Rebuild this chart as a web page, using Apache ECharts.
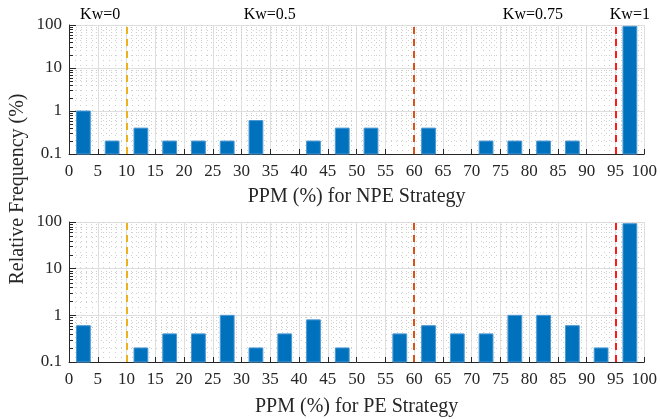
<!DOCTYPE html>
<html><head><meta charset="utf-8">
<script src="https://cdn.jsdelivr.net/npm/echarts@6/dist/echarts.min.js"></script>
<style>html,body{margin:0;padding:0;background:#fff}#c{width:660px;height:419px}</style>
</head><body><div id="c"></div>
<script>
// ---- data ----
const binCenters = [2.5, 7.5, 12.5, 17.5, 22.5, 27.5, 32.5, 37.5, 42.5, 47.5, 52.5, 57.5, 62.5, 67.5, 72.5, 77.5, 82.5, 87.5, 92.5, 97.5];
const npeValues = [1, 0.2, 0.4, 0.2, 0.2, 0.2, 0.6, 0, 0.2, 0.4, 0.4, 0, 0.4, 0, 0.2, 0.2, 0.2, 0.2, 0, 93];
const peValues  = [0.6, 0, 0.2, 0.4, 0.4, 1.0, 0.2, 0.4, 0.8, 0.2, 0, 0.4, 0.6, 0.4, 0.4, 1.0, 1.0, 0.6, 0.2, 92];
const kwLinePositions = [10, 60, 95];
const kwLineColors = ['#EDB120', '#D95319', '#FF1A1A'];
const kwLabels = ['Kw=0', 'Kw=0.5', 'Kw=0.75', 'Kw=1'];
const kwLabelX = [5.4, 34.8, 80.4, 97.2];
const minorYTicks = [0.2,0.3,0.4,0.5,0.6,0.7,0.8,0.9,2,3,4,5,6,7,8,9,20,30,40,50,60,70,80,90];
const xTitles = ['PPM (%) for NPE Strategy', 'PPM (%) for PE Strategy'];
const yTitle = 'Relative Frequency (%)';

const FONT = 'Liberation Serif';
const TXT = '#262626';
const BAR_HALF = 1.2;
const MINOR_COLOR = '#cfcfcf';
const MINOR_DASH = [1, 4];

const chart = echarts.init(document.getElementById('c'), null, {renderer: 'canvas'});

function renderBar(params, api) {
  const x = api.value(0), v = api.value(1);
  if (!(v > 0)) return null;
  const pTop = api.coord([x - BAR_HALF, v]);
  const pBot = api.coord([x + BAR_HALF, 0.1]);
  return {
    type: 'rect',
    shape: {x: pTop[0], y: pTop[1], width: pBot[0] - pTop[0], height: pBot[1] - pTop[1]},
    style: {fill: '#0072BD', stroke: '#4C98D3', lineWidth: 1}
  };
}
function renderMinor(params, api) {
  const v = api.value(1);
  const pt = api.coord([0, v]);
  const cs = params.coordSys;
  const y = Math.round(pt[1]) + 0.5;
  return {
    type: 'group',
    children: [
      {type: 'line', shape: {x1: cs.x + 2, y1: y, x2: cs.x + cs.width, y2: y},
       style: {stroke: MINOR_COLOR, lineWidth: 1, lineDash: MINOR_DASH}, z2: 0},
      {type: 'line', shape: {x1: cs.x, y1: y, x2: cs.x + 4, y2: y},
       style: {stroke: TXT, lineWidth: 1}, z2: 1}
    ]
  };
}

const grids = [
  {left: 69, top: 25, width: 577, height: 129},
  {left: 69, top: 222, width: 577, height: 140}
];

function xAxisCfg(i, gap) {
  return {
    gridIndex: i, type: 'value', min: 0, max: 100, interval: 5,
    axisLine: {show: true, onZero: false, lineStyle: {color: TXT, width: 1}},
    axisTick: {show: true, inside: true, length: 5, lineStyle: {color: TXT}},
    axisLabel: {fontFamily: FONT, fontSize: 17, color: TXT, margin: 9},
    splitLine: {show: true, lineStyle: {color: '#dedede', width: 1}},
    minorTick: {show: false, splitNumber: 5},
    minorSplitLine: {show: true, lineStyle: {color: MINOR_COLOR, width: 1, type: MINOR_DASH}},
    name: xTitles[i], nameLocation: 'middle', nameGap: gap,
    nameTextStyle: {fontFamily: FONT, fontSize: 20, color: TXT}
  };
}
function yAxisCfg(i) {
  return {
    gridIndex: i, type: 'log', logBase: 10, min: 0.1, max: 100,
    axisLine: {show: true, lineStyle: {color: TXT, width: 1}},
    axisTick: {show: true, inside: true, length: 7, lineStyle: {color: TXT}},
    axisLabel: {fontFamily: FONT, fontSize: 17, color: TXT, margin: 7,
      formatter: v => (v < 1 ? '0.1' : String(Math.round(v)))},
    splitLine: {show: true, lineStyle: {color: '#dedede', width: 1}}
  };
}

const series = [];
[npeValues, peValues].forEach((vals, i) => {
  series.push({
    type: 'custom', xAxisIndex: i, yAxisIndex: i, z: 1, silent: true,
    renderItem: renderMinor,
    encode: {x: 0, y: 1},
    data: minorYTicks.map(v => [0, v])
  });
  series.push({
    type: 'custom', xAxisIndex: i, yAxisIndex: i, z: 2,
    renderItem: renderBar,
    encode: {x: 0, y: 1},
    data: binCenters.map((c, k) => [c, vals[k]])
  });
  series.push({
    type: 'line', xAxisIndex: i, yAxisIndex: i, z: 3, data: [],
    markLine: {
      silent: true, symbol: 'none', label: {show: false}, animation: false,
      data: kwLinePositions.map((x, k) => ({
        xAxis: x,
        lineStyle: {color: kwLineColors[k], width: 2, type: [7, 5]}
      }))
    }
  });
});

const graphics = kwLabels.map((t, k) => ({
  type: 'text',
  x: 69 + kwLabelX[k] * 5.77, y: 15,
  style: {text: t, font: '16px "' + FONT + '"', fill: '#000', align: 'center', verticalAlign: 'middle'}
}));
graphics.push({
  type: 'text', x: 18, y: 189, rotation: Math.PI / 2,
  style: {text: yTitle, font: '20px "' + FONT + '"', fill: TXT, align: 'center', verticalAlign: 'middle'}
});

chart.setOption({
  animation: false,
  backgroundColor: '#fff',
  grid: grids,
  xAxis: [xAxisCfg(0, 33), xAxisCfg(1, 35)],
  yAxis: [yAxisCfg(0), yAxisCfg(1)],
  series: series,
  graphic: graphics
});
</script></body></html>
